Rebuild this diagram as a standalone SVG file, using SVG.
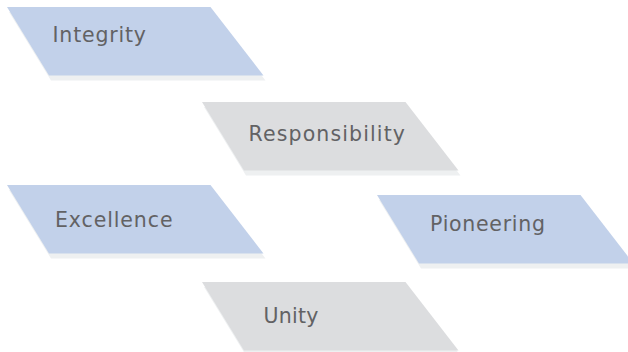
<svg xmlns="http://www.w3.org/2000/svg" width="628" height="352" viewBox="0 0 628 352">
<defs>
<style>
.sh{fill:#eef0f1}
.blue{fill:#c2d1ea}
.gray{fill:#dcdddf}
.t{font-family:"DejaVu Sans","Liberation Sans",sans-serif;font-size:20.5px;fill:#626264}
</style>
<polygon id="shape" points="0,0 203.5,0 256.5,68.5 42,68.5"/>
</defs>
<rect width="628" height="352" fill="#ffffff"/>
<g id="connectors"></g>
<g id="integrity">
<use href="#shape" class="sh" x="9" y="12"/>
<use href="#shape" class="blue" x="7" y="7"/>
<text class="t" x="52.5" y="42" textLength="93.5" lengthAdjust="spacing">Integrity</text>
</g>
<g id="responsibility">
<use href="#shape" class="sh" x="204" y="107"/>
<use href="#shape" class="gray" x="202" y="102"/>
<text class="t" x="248.5" y="141" textLength="156.5" lengthAdjust="spacing">Responsibility</text>
</g>
<g id="excellence">
<use href="#shape" class="sh" x="9" y="190"/>
<use href="#shape" class="blue" x="7" y="185"/>
<text class="t" x="55" y="227" textLength="117.5" lengthAdjust="spacing">Excellence</text>
</g>
<g id="pioneering">
<use href="#shape" class="sh" x="379" y="200"/>
<use href="#shape" class="blue" x="377" y="195"/>
<text class="t" x="430" y="231" textLength="115" lengthAdjust="spacing">Pioneering</text>
</g>
<g id="unity">
<use href="#shape" class="sh" x="204" y="287"/>
<use href="#shape" class="gray" x="202" y="282"/>
<text class="t" x="263.5" y="323" textLength="55" lengthAdjust="spacing">Unity</text>
</g>
</svg>
